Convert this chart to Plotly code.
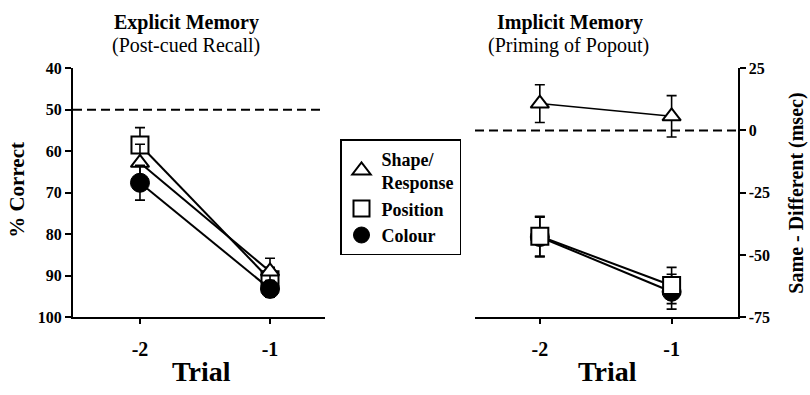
import plotly.graph_objects as go

# ---------------- data ----------------
TRIALS = [-2, -1]
TRIAL_LABELS = ["-2", "-1"]

SERIES = ["Shape/<br>Response", "Position", "Colour"]

# Explicit memory: % correct (post-cued recall)
exp_shape = [62.8, 89.0]
exp_shape_err = [4.5, 3.2]
exp_position = [58.5, 91.0]
exp_position_err = [4.2, 3.0]
exp_colour = [67.6, 93.2]
exp_colour_err = [4.2, 2.0]

# Implicit memory: same - different (msec)
imp_shape = [10.8, 5.7]
imp_shape_err = [7.6, 8.3]
imp_position = [-42.5, -62.3]
imp_position_err = [8.0, 7.3]
imp_colour = [-42.8, -64.8]
imp_colour_err = [8.0, 7.0]

LEFT_TICKS = [40, 50, 60, 70, 80, 90, 100]
RIGHT_TICKS = [25, 0, -25, -50, -75]
RIGHT_TICK_LABELS = ["25", "0", "-25", "-50", "-75"]
CHANCE = 50
ZERO = 0

# ---------------- style ----------------
W, H = 810, 395
SERIF = "'Liberation Serif', 'Times New Roman', Times, serif"
BLACK = "black"

def px_x(p):
    return p / W

def px_y(p):
    return 1 - p / H

MARKERS = {
    "Shape/<br>Response": dict(symbol="triangle-up", size=16, color="white",
                               line=dict(color=BLACK, width=2)),
    "Position": dict(symbol="square", size=17, color="white",
                     line=dict(color=BLACK, width=2)),
    "Colour": dict(symbol="circle", size=19, color=BLACK,
                   line=dict(color=BLACK, width=1)),
}

def err(arr):
    return dict(type="data", array=arr, visible=True, color=BLACK,
                thickness=1.6, width=5)

fig = go.Figure()

left = {
    "Position": (exp_position, exp_position_err),
    "Shape/<br>Response": (exp_shape, exp_shape_err),
    "Colour": (exp_colour, exp_colour_err),
}
for name, (vals, e) in left.items():
    fig.add_trace(go.Scatter(
        x=TRIALS, y=vals, error_y=err(e), mode="lines+markers",
        line=dict(color=BLACK, width=2), marker=MARKERS[name],
        showlegend=False, xaxis="x", yaxis="y", cliponaxis=False))

right = {
    "Colour": (imp_colour, imp_colour_err, 2),
    "Position": (imp_position, imp_position_err, 2),
    "Shape/<br>Response": (imp_shape, imp_shape_err, 1.5),
}
for name, (vals, e, lw) in right.items():
    fig.add_trace(go.Scatter(
        x=TRIALS, y=vals, error_y=err(e), mode="lines+markers",
        line=dict(color=BLACK, width=lw), marker=MARKERS[name],
        showlegend=False, xaxis="x2", yaxis="y2", cliponaxis=False))

# legend-only entries (markers only)
for name in SERIES:
    fig.add_trace(go.Scatter(
        x=[None], y=[None], mode="markers", name=name,
        marker=MARKERS[name], showlegend=True, xaxis="x", yaxis="y"))

ydom = [px_y(323), px_y(63)]
tick_font_y = dict(family=SERIF, size=16, color=BLACK, weight="bold")
tick_font_x = dict(family=SERIF, size=20, color=BLACK, weight="bold")

axis_common = dict(showline=True, linecolor=BLACK, linewidth=2,
                   ticks="outside", tickcolor=BLACK, tickwidth=2,
                   showgrid=False, zeroline=False, mirror=False)

fig.update_layout(
    width=W, height=H,
    margin=dict(l=0, r=0, t=0, b=0),
    paper_bgcolor="white", plot_bgcolor="white",
    font=dict(family=SERIF, color=BLACK),
    hovermode=False,
    xaxis=dict(domain=[px_x(73), px_x(325)], range=[-2.515, -0.577],
               tickvals=TRIALS, ticktext=TRIAL_LABELS, ticklen=5,
               tickfont=tick_font_x, anchor="y", ticklabelstandoff=8,
               **axis_common),
    yaxis=dict(domain=ydom, range=[100, 40], tickvals=LEFT_TICKS,
               ticklen=6, tickfont=tick_font_y, anchor="x",
               **axis_common),
    xaxis2=dict(domain=[px_x(475), px_x(737.5)], range=[-2.492, -0.5],
                tickvals=TRIALS, ticktext=TRIAL_LABELS, ticklen=5,
                tickfont=tick_font_x, anchor="y2", ticklabelstandoff=8,
                **axis_common),
    yaxis2=dict(domain=ydom, range=[-75, 25], tickvals=RIGHT_TICKS,
                ticktext=RIGHT_TICK_LABELS, ticklen=6, side="right",
                tickfont=tick_font_y, anchor="x2", **axis_common),
    legend=dict(x=px_x(340), y=px_y(137), xanchor="left", yanchor="top",
                bordercolor=BLACK, borderwidth=1.5, bgcolor="white",
                font=dict(family=SERIF, size=18, color=BLACK, weight="bold"),
                itemsizing="trace", traceorder="normal", tracegroupgap=0),
    shapes=[
        dict(type="line", xref="x domain", x0=0, x1=1, yref="y",
             y0=CHANCE, y1=CHANCE, line=dict(color=BLACK, width=2, dash="9px,5px"),
             layer="below"),
        dict(type="line", xref="x2 domain", x0=0, x1=1, yref="y2",
             y0=ZERO, y1=ZERO, line=dict(color=BLACK, width=2, dash="9px,5px"),
             layer="below"),
    ],
)

def note(text, x, y, size, bold=True, angle=0):
    fig.add_annotation(
        text=text, x=px_x(x), y=px_y(y), xref="paper", yref="paper",
        xanchor="center", yanchor="middle", showarrow=False, textangle=angle,
        font=dict(family=SERIF, size=size, color=BLACK,
                  weight="bold" if bold else "normal"))

note("Explicit Memory", 186, 15, 20)
note("(Post-cued Recall)", 186, 39, 20, bold=False)
note("Implicit Memory", 570, 15, 20)
note("(Priming of Popout)", 568, 39, 20, bold=False)
note("Trial", 201, 380, 28)
note("Trial", 607, 380, 28)
note("% Correct", 17, 190, 21, angle=-90)
note("Same - Different (msec)", 797, 194, 20, angle=-90)

fig.write_html("out.html")
